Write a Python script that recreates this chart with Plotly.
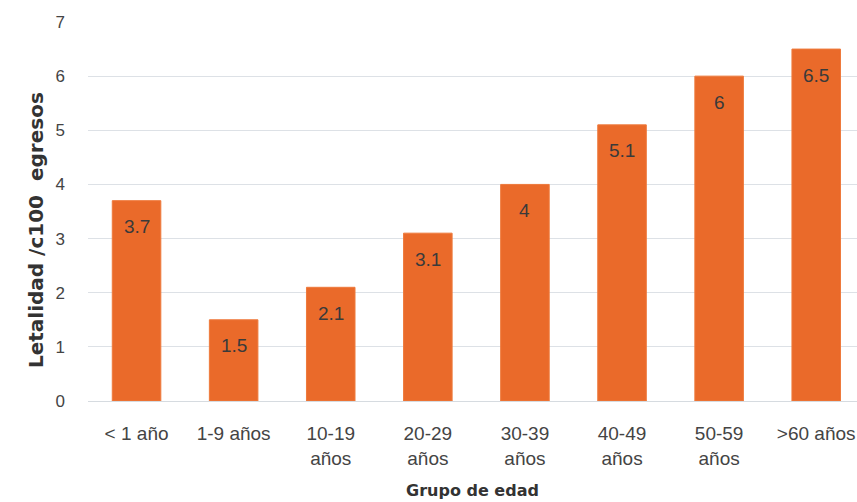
import plotly.graph_objects as go

categories = ["< 1 año", "1-9 años", "10-19<br>años", "20-29<br>años", "30-39<br>años",
              "40-49<br>años", "50-59<br>años", ">60 años"]
values = [3.7, 1.5, 2.1, 3.1, 4, 5.1, 6, 6.5]
labels = ["3.7", "1.5", "2.1", "3.1", "4", "5.1", "6", "6.5"]
y_ticks = [0, 1, 2, 3, 4, 5, 6, 7]

FONT = "Liberation Sans, Arial, sans-serif"
xs = list(range(len(categories)))

fig = go.Figure()
fig.add_trace(go.Bar(
    x=xs,
    y=values,
    marker=dict(color="#EA6A2A", line=dict(color="#EE7A3C", width=1)),
    width=0.5,
))

for xi, v, lab in zip(xs, values, labels):
    fig.add_annotation(
        x=xi, y=v, xref="x", yref="y", text=lab, showarrow=False,
        yanchor="middle", yshift=-26,
        font=dict(family=FONT, size=19, color="#3a3a3a"),
    )

fig.add_annotation(
    x=0, y=0.451, xref="paper", yref="paper", xanchor="center", yanchor="middle",
    xshift=-52, textangle=-90, showarrow=False,
    text="<b>Letalidad /c100  egresos</b>",
    font=dict(family="DejaVu Sans, sans-serif", size=20, color="#333"),
)

fig.update_layout(
    width=857, height=502,
    margin=dict(l=88, r=0, t=22, b=101),
    plot_bgcolor="white", paper_bgcolor="white",
    showlegend=False,
    font=dict(family=FONT, color="#444"),
    xaxis=dict(
        tickmode="array",
        tickvals=xs,
        ticktext=categories,
        range=[-0.5, 7.42],
        tickfont=dict(size=19, color="#444"),
        showgrid=False, zeroline=False, showline=False,
        ticks="", ticklabelstandoff=19,
        title=dict(text="<b>Grupo de edad</b>",
                   font=dict(family="DejaVu Sans, sans-serif", size=16, color="#333"),
                   standoff=17),
    ),
    yaxis=dict(
        range=[0, 7],
        tickvals=y_ticks,
        tickfont=dict(size=17, color="#444"),
        showgrid=True, gridcolor="#dde1e6", gridwidth=1,
        zeroline=True, zerolinecolor="#d6dbe0", zerolinewidth=1,
        showline=False,
        ticks="", ticklabelstandoff=22,
    ),
)

fig.write_html("out.html")
